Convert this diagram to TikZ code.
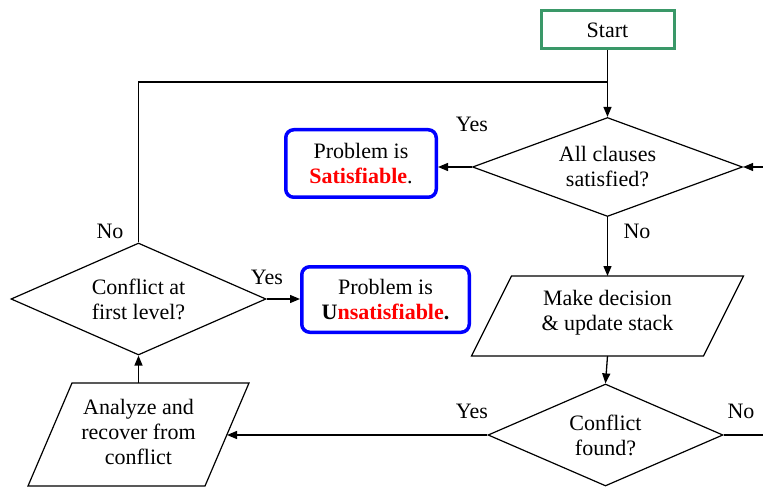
\documentclass[tikz,border=0pt]{standalone}
\usepackage{fontspec}
\setmainfont{Liberation Serif}
\usetikzlibrary{shapes.geometric,arrows.meta}
\definecolor{startgreen}{RGB}{58,152,104}
\definecolor{boxblue}{RGB}{0,0,255}
\definecolor{txtred}{RGB}{255,0,0}
\begin{document}
\begin{tikzpicture}[x=1pt,y=-1pt,font=\fontsize{22}{25}\selectfont,
  dec/.style={diamond, draw, line width=1.2pt, inner sep=0pt, align=center},
  resbox/.style={draw=boxblue, line width=3.5pt, rounded corners=8pt, align=center, inner sep=0pt},
  para/.style={draw=none, inner sep=0pt, outer sep=0pt},
  ptext/.style={inner sep=0pt, align=center},
  conn/.style={line width=1.3pt, -{Triangle[length=10pt,width=8pt]}},
  plain/.style={line width=1.3pt},
  lab/.style={inner sep=0pt}]
\useasboundingbox (0,0) rectangle (763,489);

\node[draw=startgreen, line width=3pt, minimum width=133pt, minimum height=38pt, inner sep=0pt] (start) at (607.5,30) {Start};

\node[dec, aspect=2.7, minimum width=270pt, minimum height=99pt] (sat) at (607.5,167) {All clauses\\satisfied?};

\node[resbox, minimum width=150.5pt, minimum height=67.5pt] (sbox) at (361,163.5) {Problem is\\\textbf{\textcolor{txtred}{Satisfiable}}.};

\node[para, minimum width=232pt, minimum height=80pt] (mk) at (607.5,316) {};
\draw[line width=1.2pt] ([xshift=20pt]mk.north west) -- ([xshift=20pt]mk.north east) -- ([xshift=-20pt]mk.south east) -- ([xshift=-20pt]mk.south west) -- cycle;
\node[ptext] (mkt) at ([yshift=3pt]mk.center) {Make decision\\\& update stack};

\node[dec, aspect=2.3, minimum width=235pt, minimum height=102pt] (cf) at (605.5,435) {Conflict\\found?};

\node[para, minimum width=177pt, minimum height=103pt] (an) at (138.5,434.5) {};
\draw[line width=1.2pt] ([xshift=22pt]an.north west) -- ([xshift=22pt]an.north east) -- ([xshift=-22pt]an.south east) -- ([xshift=-22pt]an.south west) -- cycle;
\node[ptext] (ant) at ([yshift=3pt]an.center) {Analyze and\\recover from\\conflict};

\node[dec, aspect=2.3, minimum width=255pt, minimum height=112pt] (first) at (138.5,299) {Conflict at\\first level?};

\node[resbox, minimum width=167.5pt, minimum height=65.5pt] (ubox) at (385.5,299.5) {Problem is\\\textbf{U\textcolor{txtred}{nsatisfiable}.}};

\coordinate (join) at (607.5,82);
\coordinate (rin) at (763,167);
\coordinate (rout) at (763,435);

\draw[conn] (start.south) -- (sat.north);
\draw[plain] (first.north) |- (join);
\draw[conn] (rin) -- (sat.east);
\draw[conn] (sat.west) -- (sat.west -| sbox.east);
\draw[conn] (sat.south) -- (mk.north);
\draw[conn] (mk.south) -- (cf.north);
\draw[plain] (cf.east) -- (rout);
\draw[conn] (cf.west) -- (cf.west -| an.east);
\draw[conn] (an.north) -- (first.south);
\draw[conn] (first.east) -- (first.east -| ubox.west);

\node[lab] (l1) at (472,124) {Yes};
\node[lab] (l2) at (637,231) {No};
\node[lab] (l3) at (472,411) {Yes};
\node[lab] (l4) at (741,411) {No};
\node[lab] (l5) at (267,277) {Yes};
\node[lab] (l6) at (110,231) {No};
\end{tikzpicture}
\end{document}
